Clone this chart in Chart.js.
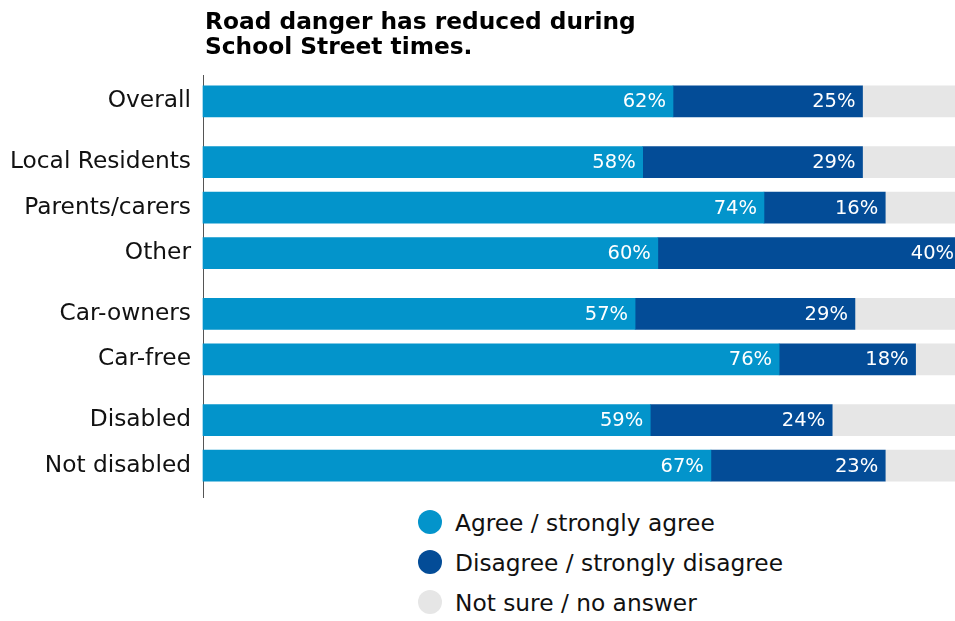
<!DOCTYPE html>
<html>
<head>
<meta charset="utf-8">
<script src="https://cdn.jsdelivr.net/npm/chart.js@4"></script>
<style>
    body { margin: 0; background: #fff; font-family: "DejaVu Sans", sans-serif; }
    #wrap { position: relative; width: 955px; height: 621px; }
    #chartBox { position: relative; width: 955px; height: 500px; }
    #legend { position: absolute; left: 418px; top: 502px; }
    .legend-row { display: flex; align-items: center; height: 40px; font-size: 23.3px; color: #111; }
    .legend-dot { width: 24px; height: 24px; border-radius: 50%; margin-right: 13px; }
</style>
</head>
<body>
<div id="wrap">
    <div id="chartBox"><canvas id="roadChart" width="955" height="500"></canvas></div>
    <div id="legend"></div>
</div>

<script>
const titleLines = ["Road danger has reduced during", "School Street times."];

const categories = [
    "Overall",
    "Local Residents",
    "Parents/carers",
    "Other",
    "Car-owners",
    "Car-free",
    "Disabled",
    "Not disabled"
];

// which block each row belongs to (blocks are separated by a small gap)
const groups = [0, 1, 1, 1, 2, 2, 3, 3];

const seriesNames = [
    "Agree / strongly agree",
    "Disagree / strongly disagree",
    "Not sure / no answer"
];

const agree    = [62, 58, 74, 60, 57, 76, 59, 67];
const disagree = [25, 29, 16, 40, 29, 18, 24, 23];
const notSure  = [13, 13, 10,  0, 14,  6, 17, 10];

const colours = ["#0394CB", "#034C97", "#E6E6E6"];

// row positions on the index axis: one step per row, plus a third of a step between blocks
const GROUP_GAP = 1 / 3;
const rowPos = categories.map((c, i) => i + groups[i] * GROUP_GAP);

const FONT = "'DejaVu Sans', sans-serif";

const titlePlugin = {
    id: "leftTitle",
    afterDraw(chart) {
        const ctx = chart.ctx;
        ctx.save();
        ctx.fillStyle = "#000";
        ctx.font = "bold 23.3px " + FONT;
        ctx.textAlign = "left";
        ctx.textBaseline = "alphabetic";
        titleLines.forEach((line, i) => {
            ctx.fillText(line, chart.chartArea.left + 2, 29 + i * 25);
        });
        ctx.restore();
    }
};

const valueLabels = {
    id: "valueLabels",
    afterDatasetsDraw(chart) {
        const ctx = chart.ctx;
        ctx.save();
        ctx.font = "19.5px " + FONT;
        ctx.fillStyle = "#fff";
        ctx.textAlign = "right";
        ctx.textBaseline = "middle";
        [0, 1].forEach(d => {
            const meta = chart.getDatasetMeta(d);
            meta.data.forEach((bar, i) => {
                const v = chart.data.datasets[d].data[i].x;
                if (!v) return;
                ctx.fillText(v + "%", bar.x - 7, bar.y + 1);
            });
        });
        ctx.restore();
    }
};

function toPoints(values) {
    return values.map((v, i) => ({ x: v, y: rowPos[i] }));
}

const datasets = [agree, disagree, notSure].map((values, d) => ({
    label: seriesNames[d],
    data: toPoints(values),
    backgroundColor: colours[d],
    borderWidth: 0,
    barThickness: 31,
    clip: false
}));

const chart = new Chart(
    document.getElementById("roadChart"),
    {
        type: "bar",

        data: { datasets: datasets },

        options: {
            indexAxis: "y",
            responsive: false,
            animation: false,

            layout: {
                padding: { top: 75, bottom: 3, left: 0, right: 0 }
            },

            plugins: {
                legend: { display: false },
                title: { display: false },
                tooltip: { enabled: false }
            },

            scales: {
                x: {
                    type: "linear",
                    stacked: true,
                    display: false,
                    min: 0,
                    max: 99.2
                },
                y: {
                    type: "linear",
                    stacked: true,
                    reverse: true,
                    offset: false,
                    min: -0.58,
                    max: 8.69,
                    grid: { display: false },
                    border: { display: true, color: "#555", width: 1 },
                    afterBuildTicks: scale => {
                        scale.ticks = rowPos.map(v => ({ value: v }));
                    },
                    afterFit: scale => {
                        scale.width = 203;
                        scale.paddingTop = 0;
                        scale.paddingBottom = 0;
                    },
                    ticks: {
                        padding: 4,
                        color: "#111",
                        font: { family: FONT, size: 23.3 },
                        callback: (value, index) => categories[index]
                    }
                }
            }
        },

        plugins: [titlePlugin, valueLabels]
    }
);

// legend, one entry per row
const legend = document.getElementById("legend");
chart.data.datasets.forEach(ds => {
    legend.innerHTML += `
        <div class="legend-row">
            <span class="legend-dot" style="background:${ds.backgroundColor}"></span>
            <span>${ds.label}</span>
        </div>
    `;
});
</script>
</body>
</html>
